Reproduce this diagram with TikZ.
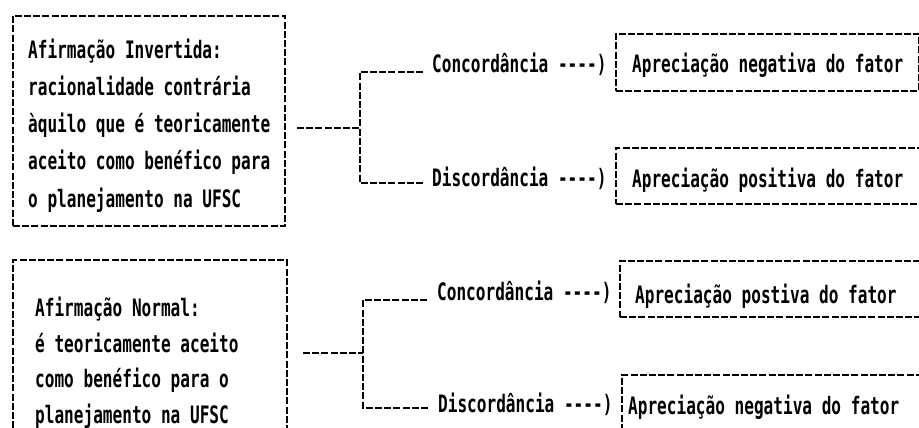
\documentclass[tikz,border=0pt]{standalone}
\usepackage{fontspec}
\newfontfamily\dotfont[FakeStretch=0.67]{DejaVu Sans Mono}
\begin{document}
\begin{tikzpicture}[x=1pt,y=-1pt,
  dl/.style={line width=1.8pt, dash pattern=on 7pt off 2.2pt},
  boxn/.style={dl, draw, rectangle, inner sep=0pt, anchor=north west},
  txt/.style={inner sep=0pt, anchor=base west, align=left,
    font=\dotfont\bfseries\fontsize{24}{37.25}\selectfont}]
\useasboundingbox (0,0) rectangle (919,428);
\clip (0,0) rectangle (919,428);
% left boxes
\node[boxn, minimum width=272pt, minimum height=210pt] (b1) at (12,15) {};
\node[txt] (t1) at (28,207) {Afirmação Invertida:\\racionalidade contrária\\àquilo que é teoricamente\\aceito como benéfico para\\o planejamento na UFSC};
\node[boxn, minimum width=274pt, minimum height=220pt] (b2) at (12,259) {};
\node[txt, font=\dotfont\bfseries\fontsize{24}{35.5}\selectfont] (t2) at (35,423) {Afirmação Normal:\\é teoricamente aceito\\como benéfico para o\\planejamento na UFSC};
% labels
\node[txt] (lc1) at (432,73) {Concordância ----)};
\node[txt] (ld1) at (432,186) {Discordância ----)};
\node[txt] (lc2) at (437,300) {Concordância ----)};
\node[txt] (ld2) at (438,412) {Discordância ----)};
% right boxes
\node[boxn, minimum width=303pt, minimum height=57pt] (r1) at (615,33) {};
\node[txt] (rt1) at (632,73) {Apreciação negativa do fator};
\node[boxn, minimum width=310pt, minimum height=56pt] (r2) at (615,147) {};
\node[txt] (rt2) at (632,187) {Apreciação positiva do fator};
\node[boxn, minimum width=306pt, minimum height=56pt] (r3) at (619,260) {};
\node[txt] (rt3) at (635,303) {Apreciação postiva do fator};
\node[boxn, minimum width=304pt, minimum height=70pt] (r4) at (621,374) {};
\node[txt] (rt4) at (628,414) {Apreciação negativa do fator};
% connectors
\coordinate (s1) at (297,128);
\coordinate (j1) at (360,128);
\coordinate (s2) at (303,353);
\coordinate (j2) at (363,353);
\draw[dl] (s1) -- (j1);
\draw[dl] ([xshift=-9pt,yshift=1pt]lc1.base west) -- ([yshift=1pt]lc1.base west -| j1) -- ([yshift=3pt]ld1.base west -| j1) -- ([xshift=-9pt,yshift=3pt]ld1.base west);
\draw[dl] (s2) -- (j2);
\draw[dl] ([xshift=-10pt]lc2.base west) -- (lc2.base west -| j2) -- ([yshift=4pt]ld2.base west -| j2) -- ([xshift=-10pt,yshift=4pt]ld2.base west);
\end{tikzpicture}
\end{document}
